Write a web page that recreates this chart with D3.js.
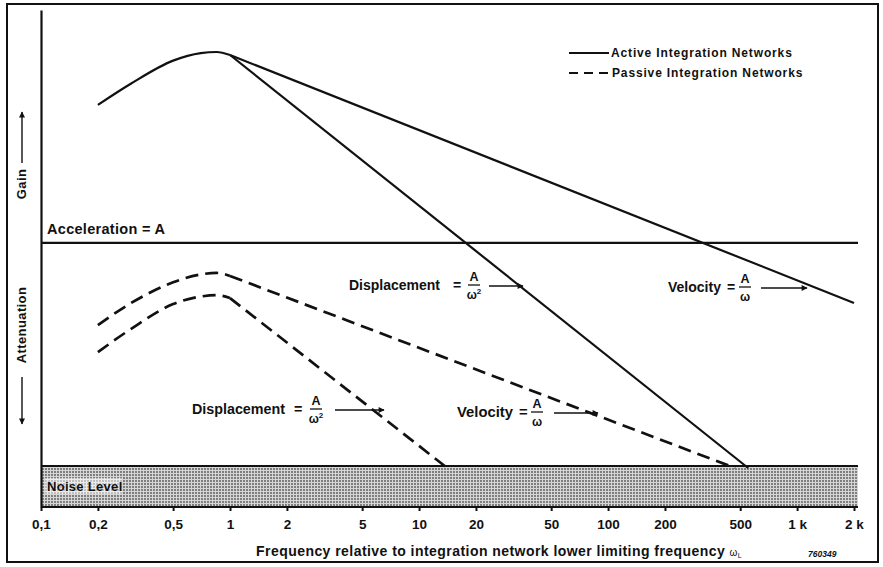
<!DOCTYPE html>
<html><head><meta charset="utf-8">
<script src="https://cdn.jsdelivr.net/npm/d3@7"></script>
<style>
html,body{margin:0;padding:0;background:#fff;}
text{font-family:"Liberation Sans",Arial,sans-serif;font-weight:bold;fill:#111;}
</style></head>
<body>
<svg id="c" width="883" height="567"></svg>
<script>
// ---- data (levels in dB relative to acceleration output) ----
const xTicks = [0.1,0.2,0.5,1,2,5,10,20,50,100,200,500,1000,2000];
const xTickLabels = ["0,1","0,2","0,5","1","2","5","10","20","50","100","200","500","1 k","2 k"];

const humpFreq = [0.2,0.3,0.5,0.7,0.85,1];
const activeHump = [36.8,42.5,48.6,50.6,50.9,50.1];
const activeVelFreq = [1,2000];
const activeVel = [50.1,-16];
const activeDispFreq = [1,551];
const activeDisp = [50.1,-60];

const passiveVelHump = [-21.9,-16.0,-10.5,-8.4,-8.0,-8.8];
const passiveVelFreq = [1,470];
const passiveVel = [-8.8,-60];
const passiveDispHump = [-29.1,-22.9,-16.3,-14.3,-13.9,-14.7];
const passiveDispFreq = [1,14.1];
const passiveDisp = [-14.7,-60];

const accelLevel = 0;
const noiseLevel = -59.5;

const svg = d3.select("#c");
const L = 41, R = 858, T = 10, B = 507;

const x = d3.scaleLog().domain([0.1,2000]).range([L,854]);
const y = d3.scaleLinear().domain([-70.4,62.1]).range([B,T]);

// defs
const defs = svg.append("defs");
const pat = defs.append("pattern").attr("id","dots").attr("patternUnits","userSpaceOnUse")
  .attr("width",3).attr("height",3);
pat.append("rect").attr("width",3).attr("height",3).attr("fill","#d6d6d6");
pat.append("circle").attr("cx",1).attr("cy",1).attr("r",0.9).attr("fill","#555");
defs.append("marker").attr("id","arr").attr("viewBox","0 0 10 10").attr("refX",9).attr("refY",5)
  .attr("markerWidth",7).attr("markerHeight",6).attr("markerUnits","userSpaceOnUse").attr("orient","auto")
  .append("path").attr("d","M0,0L10,5L0,10Z").attr("fill","#111");

// outer frame
svg.append("rect").attr("x",7).attr("y",4).attr("width",871).attr("height",558)
  .attr("fill","none").attr("stroke","#111").attr("stroke-width",2);

// noise band
svg.append("rect").attr("x",L).attr("y",y(noiseLevel)).attr("width",R-L).attr("height",B-y(noiseLevel))
  .attr("fill","url(#dots)");
svg.append("line").attr("x1",L).attr("x2",R).attr("y1",y(noiseLevel)).attr("y2",y(noiseLevel))
  .attr("stroke","#111").attr("stroke-width",2);
svg.append("rect").attr("x",45).attr("y",478).attr("width",77).attr("height",16).attr("fill","#fff").attr("opacity",0.5);
svg.append("text").attr("x",47).attr("y",491).attr("font-size",13).attr("letter-spacing",0.3).text("Noise Level");

// axes
const xa = svg.append("g").attr("transform",`translate(0,${B})`)
  .call(d3.axisBottom(x).tickValues(xTicks).tickFormat((d,i)=>xTickLabels[i]).tickSize(4).tickSizeOuter(0).tickPadding(8));
xa.select(".domain").remove();
xa.selectAll(".tick line").attr("stroke","#111").attr("stroke-width",2);
xa.selectAll(".tick text").attr("font-size",13.5).attr("fill","#111").attr("font-family","Liberation Sans, Arial, sans-serif").attr("font-weight","bold");
svg.append("line").attr("x1",L).attr("x2",R).attr("y1",B).attr("y2",B).attr("stroke","#111").attr("stroke-width",2);

const ya = svg.append("g").attr("transform",`translate(${L},0)`)
  .call(d3.axisLeft(y).tickValues([]).tickSizeOuter(0));
ya.select(".domain").attr("stroke","#111").attr("stroke-width",2.2);

// acceleration
svg.append("line").attr("x1",L).attr("x2",R).attr("y1",y(accelLevel)).attr("y2",y(accelLevel))
  .attr("stroke","#111").attr("stroke-width",2.2);
svg.append("text").attr("x",47).attr("y",234).attr("font-size",14.5).attr("letter-spacing",0.3).text("Acceleration = A");

// curves
const smooth = d3.line().x(d=>x(d[0])).y(d=>y(d[1])).curve(d3.curveMonotoneX);
const straight = d3.line().x(d=>x(d[0])).y(d=>y(d[1]));
function z(f,v){return f.map((d,i)=>[d,v[i]]);}
function draw(gen,data,dash){
  svg.append("path").attr("d",gen(data)).attr("fill","none").attr("stroke","#111")
    .attr("stroke-width",dash?2.7:2.2).attr("stroke-dasharray",dash?"13,7":null).attr("stroke-linecap","butt");
}
draw(smooth, z(humpFreq,activeHump), false);
draw(straight, z(activeVelFreq,activeVel), false);
draw(straight, z(activeDispFreq,activeDisp), false);
draw(smooth, z(humpFreq,passiveVelHump), true);
draw(straight, z(passiveVelFreq,passiveVel), true);
draw(smooth, z(humpFreq,passiveDispHump), true);
draw(straight, z(passiveDispFreq,passiveDisp), true);

// legend
svg.append("line").attr("x1",569).attr("x2",609).attr("y1",53).attr("y2",53).attr("stroke","#111").attr("stroke-width",2);
svg.append("text").attr("x",611).attr("y",57).attr("font-size",12).attr("letter-spacing",0.85).text("Active Integration Networks");
svg.append("line").attr("x1",569).attr("x2",611).attr("y1",73).attr("y2",73).attr("stroke","#111").attr("stroke-width",2).attr("stroke-dasharray","9,6");
svg.append("text").attr("x",612).attr("y",77).attr("font-size",12).attr("letter-spacing",0.85).text("Passive Integration Networks");

// annotations
function annot(lx, ly, fs, label, eqX, fracX, den, a1, a2){
  svg.append("text").attr("x",lx).attr("y",ly+5).attr("font-size",fs).text(label);
  svg.append("text").attr("x",eqX).attr("y",ly+5).attr("font-size",fs).text("=");
  svg.append("text").attr("x",fracX).attr("y",ly-4).attr("font-size",12.5).attr("text-anchor","middle").text("A");
  svg.append("line").attr("x1",fracX-6).attr("x2",fracX+6).attr("y1",ly).attr("y2",ly).attr("stroke","#111").attr("stroke-width",1.3);
  const t = svg.append("text").attr("x",fracX).attr("y",ly+14).attr("font-size",12).attr("text-anchor","middle").text("ω");
  if(den) t.append("tspan").attr("font-size",8).attr("dy",-5).text("2");
  svg.append("line").attr("x1",a1).attr("x2",a2).attr("y1",ly+1).attr("y2",ly+1).attr("stroke","#111").attr("stroke-width",1.6).attr("marker-end","url(#arr)");
}
annot(349, 285, 14, "Displacement", 453, 474, true, 489, 523);
annot(668, 287, 14, "Velocity", 727, 745, false, 761, 807);
annot(192, 409, 14.3, "Displacement", 294, 316, true, 335, 384);
annot(457, 412, 14.8, "Velocity", 519, 537, false, 554, 598);

// y labels
function vlab(txt, cx, cy, fs){
  svg.append("text").attr("transform",`translate(${cx},${cy}) rotate(-90)`).attr("text-anchor","middle")
    .attr("font-size",fs).attr("letter-spacing",0.4).text(txt);
}
vlab("Gain", 26, 184, 13);
vlab("Attenuation", 26, 325, 13);
svg.append("line").attr("x1",22).attr("x2",22).attr("y1",163).attr("y2",112).attr("stroke","#111").attr("stroke-width",1.4).attr("marker-end","url(#arr)");
svg.append("line").attr("x1",22).attr("x2",22).attr("y1",377).attr("y2",424).attr("stroke","#111").attr("stroke-width",1.4).attr("marker-end","url(#arr)");

// x title
const tt = svg.append("text").attr("x",256).attr("y",556).attr("font-size",14).attr("letter-spacing",0.45)
  .text("Frequency relative to integration network lower limiting frequency ");
tt.append("tspan").attr("font-size",10).attr("font-weight","normal").text("ω")
  .append("tspan").attr("font-size",7).attr("dy",2).text("L");
svg.append("text").attr("x",808).attr("y",557).attr("font-size",8.5).attr("font-style","italic").text("760349");
</script>
</body></html>
